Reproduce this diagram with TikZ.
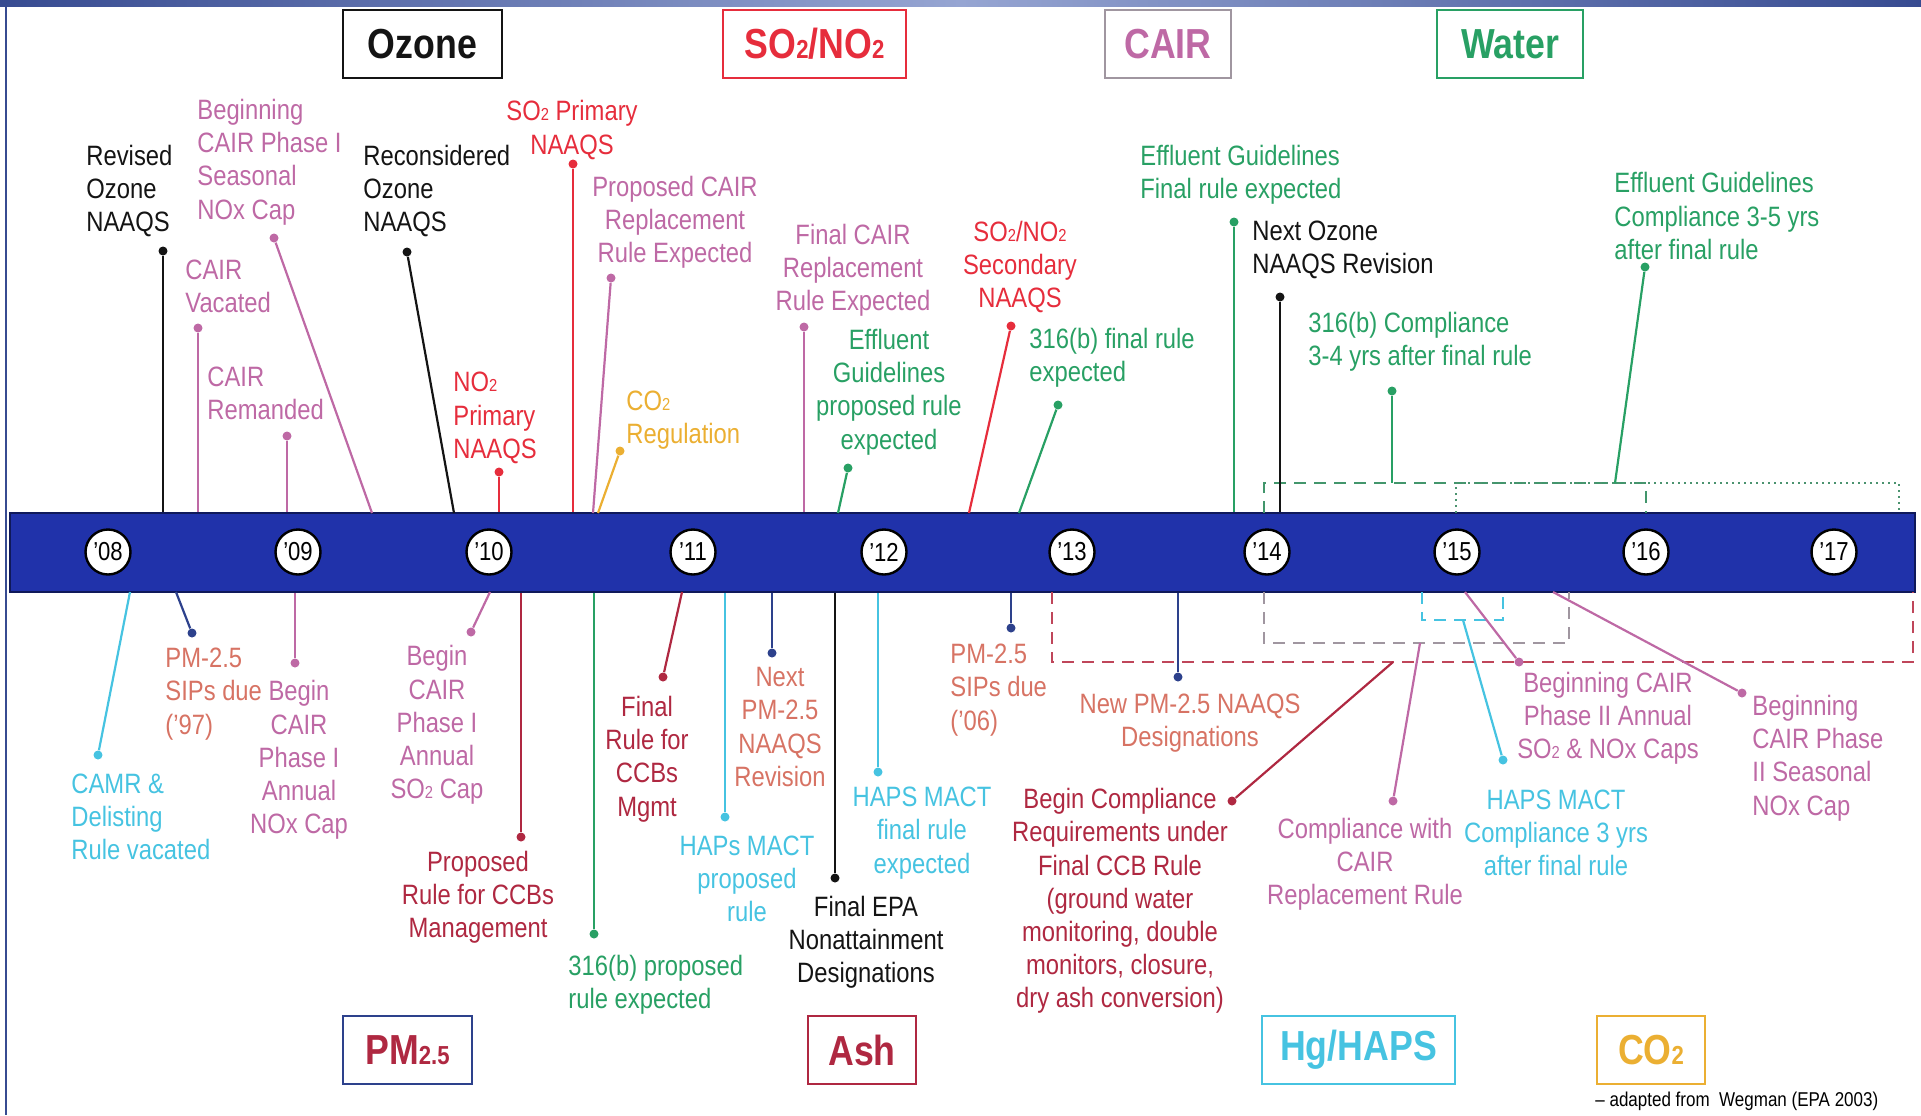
\documentclass[tikz,border=0pt]{standalone}
\usepackage{fontspec}
\setmainfont{Liberation Sans}[FakeStretch=0.85]
\definecolor{ozonec}{RGB}{20,20,20}
\definecolor{cairc}{RGB}{190,105,165}
\definecolor{soxc}{RGB}{230,45,60}
\definecolor{waterc}{RGB}{40,160,100}
\definecolor{pmtext}{RGB}{215,115,100}
\definecolor{pmnavy}{RGB}{45,65,140}
\definecolor{ashc}{RGB}{175,40,65}
\definecolor{hapsc}{RGB}{70,195,225}
\definecolor{coc}{RGB}{235,175,50}
\definecolor{barblue}{RGB}{32,50,170}
\definecolor{bardark}{RGB}{15,25,90}
\definecolor{bandblue}{RGB}{55,75,145}
\definecolor{bandlight}{RGB}{150,165,210}
\definecolor{boxgray}{RGB}{160,150,160}
\newcommand{\smallsub}[1]{\scalebox{0.62}{#1}}
\begin{document}
\begin{tikzpicture}[x=0.5pt,y=-0.5pt,
    lbl/.style={inner sep=0pt,font=\fontsize{14}{16.6}\selectfont},
    lblc/.style={lbl,align=center},
    lbll/.style={lbl,align=left,anchor=west},
    evdot/.style={circle,fill,inner sep=0pt,minimum size=4.5pt},
    stem/.style={line width=1.1pt},
    yearmark/.style={circle,draw=black,line width=1.2pt,fill=white,minimum size=22.5pt,inner sep=0pt,font=\fontsize{13}{13}\selectfont},
    catbox/.style={rectangle,draw,line width=1pt,minimum height=34pt,inner sep=0pt,font=\fontsize{21}{21}\selectfont\bfseries},
    boxdash/.style={line width=1pt,dash pattern=on 6pt off 4pt}]
    \useasboundingbox (0,0) rectangle (1921,1115);
    \shade [left color=bandblue,right color=bandblue,middle color=bandlight] (0,0) rectangle (1921,6);
    \draw [bandblue,line width=1pt] (6,0) -- (6,1115);
    \node (Bar) [rectangle,fill=barblue,draw=bardark,line width=1pt,minimum width=952.5pt,minimum height=39.5pt,inner sep=0pt] at (962.5,552.5) {};
    \node (OzoneBox) [catbox,draw=ozonec,text=ozonec,minimum width=79.5pt] at (422.5,44) {Ozone};
    \node (SoxBox) [catbox,draw=soxc,text=soxc,minimum width=91.5pt] at (814.5,44) {SO\smallsub{2}/NO\smallsub{2}};
    \node (CairBox) [catbox,draw=boxgray,text=cairc,minimum width=63pt] at (1168,44) {CAIR};
    \node (WaterBox) [catbox,draw=waterc,text=waterc,minimum width=73pt] at (1510,44) {Water};
    \node (PmBox) [catbox,draw=pmnavy,text=ashc,minimum width=64.5pt] at (407.5,1050) {PM\smallsub{2.5}};
    \node (AshBox) [catbox,draw=ashc,text=ashc,minimum width=54pt] at (862,1050) {Ash};
    \node (HapsBox) [catbox,draw=hapsc,text=hapsc,minimum width=96.5pt] at (1358.5,1050) {Hg/HAPS};
    \node (CoBox) [catbox,draw=coc,text=coc,minimum width=54pt] at (1651,1050) {CO\smallsub{2}};
    \node (Credit) [inner sep=0pt,anchor=west,font=\fontsize{10}{10}\selectfont] at (1595,1101) {-- adapted from~ Wegman (EPA 2003)};
    \coordinate (WaterNW) at (1264,483);
    \coordinate (GrayS) at (1264,643);
    \coordinate (HapsS) at (1422,620);
    \coordinate (RedS) at (1052,662);
    \draw [boxdash,waterc!70!gray] (1264,513) -- (WaterNW) -- (1646,483) -- (1646,513);
    \draw [line width=1pt,dotted,waterc!60!gray] (1456,513) -- (1456,483) -- (1899,483) -- (1899,513);
    \draw [boxdash,boxgray] (1264,592) -- (GrayS) -- (1569,643) -- (1569,592);
    \draw [boxdash,hapsc] (1422,592) -- (HapsS) -- (1503,620) -- (1503,592);
    \draw [boxdash,ashc!80!pink] (1052,592) -- (RedS) -- (1913,662) -- (1913,592);
    \node (RevisedOzone) [lbll,text=ozonec] at (86,191) {Revised\\Ozone\\NAAQS};
    \node (RevisedOzoneDot) [evdot,ozonec] at (163,251) {};
    \draw [stem,ozonec] (RevisedOzoneDot) -- (RevisedOzoneDot |- Bar.north);
    \node (PhaseOneSeasonal) [lbll,text=cairc] at (197,162) {Beginning\\CAIR Phase I\\Seasonal\\NOx Cap};
    \node (PhaseOneSeasonalDot) [evdot,cairc] at (274,238) {};
    \coordinate (PhaseOneSeasonalFoot) at (372,513);
    \draw [stem,cairc] (PhaseOneSeasonalDot) -- (PhaseOneSeasonalFoot);
    \node (CairVacated) [lbll,text=cairc] at (185,286) {CAIR\\Vacated};
    \node (CairVacatedDot) [evdot,cairc] at (198,328) {};
    \draw [stem,cairc] (CairVacatedDot) -- (CairVacatedDot |- Bar.north);
    \node (CairRemanded) [lbll,text=cairc] at (207,393) {CAIR\\Remanded};
    \node (CairRemandedDot) [evdot,cairc] at (287,436) {};
    \draw [stem,cairc] (CairRemandedDot) -- (CairRemandedDot |- Bar.north);
    \node (ReconsideredOzone) [lbll,text=ozonec] at (363,191) {Reconsidered\\Ozone\\NAAQS};
    \node (ReconsideredOzoneDot) [evdot,ozonec] at (407,252) {};
    \coordinate (ReconsideredOzoneFoot) at (454,513);
    \draw [stem,ozonec] (ReconsideredOzoneDot) -- (ReconsideredOzoneFoot);
    \node (SoPrimary) [lblc,text=soxc] at (572,130) {SO\smallsub{2} Primary\\NAAQS};
    \node (SoPrimaryDot) [evdot,soxc] at (573,164) {};
    \draw [stem,soxc] (SoPrimaryDot) -- (SoPrimaryDot |- Bar.north);
    \node (NoPrimary) [lbll,text=soxc] at (453,418) {NO\smallsub{2}\\Primary\\NAAQS};
    \node (NoPrimaryDot) [evdot,soxc] at (499,472) {};
    \draw [stem,soxc] (NoPrimaryDot) -- (NoPrimaryDot |- Bar.north);
    \node (ProposedCair) [lblc,text=cairc] at (675,222) {Proposed CAIR\\Replacement\\Rule Expected};
    \node (ProposedCairDot) [evdot,cairc] at (611,278) {};
    \coordinate (ProposedCairFoot) at (593,513);
    \draw [stem,cairc] (ProposedCairDot) -- (ProposedCairFoot);
    \node (CoRegulation) [lbll,text=coc] at (626,420) {CO\smallsub{2}\\Regulation};
    \node (CoRegulationDot) [evdot,coc] at (620,451) {};
    \coordinate (CoRegulationFoot) at (598,513);
    \draw [stem,coc] (CoRegulationDot) -- (CoRegulationFoot);
    \node (FinalCair) [lblc,text=cairc] at (853,270) {Final CAIR\\Replacement\\Rule Expected};
    \node (FinalCairDot) [evdot,cairc] at (804,327) {};
    \draw [stem,cairc] (FinalCairDot) -- (FinalCairDot |- Bar.north);
    \node (EffluentProposed) [lblc,text=waterc] at (889,392) {Effluent\\Guidelines\\proposed rule\\expected};
    \node (EffluentProposedDot) [evdot,waterc] at (848,468) {};
    \coordinate (EffluentProposedFoot) at (838,513);
    \draw [stem,waterc] (EffluentProposedDot) -- (EffluentProposedFoot);
    \node (SecondaryNaaqs) [lblc,text=soxc] at (1020,267) {SO\smallsub{2}/NO\smallsub{2}\\Secondary\\NAAQS};
    \node (SecondaryNaaqsDot) [evdot,soxc] at (1011,326) {};
    \coordinate (SecondaryNaaqsFoot) at (969,513);
    \draw [stem,soxc] (SecondaryNaaqsDot) -- (SecondaryNaaqsFoot);
    \node (FinalRuleWater) [lbll,text=waterc] at (1029,358) {316(b) final rule\\expected};
    \node (FinalRuleWaterDot) [evdot,waterc] at (1058,405) {};
    \coordinate (FinalRuleWaterFoot) at (1019,513);
    \draw [stem,waterc] (FinalRuleWaterDot) -- (FinalRuleWaterFoot);
    \node (EffluentFinal) [lbll,text=waterc] at (1140,175) {Effluent Guidelines\\Final rule expected};
    \node (EffluentFinalDot) [evdot,waterc] at (1234,222) {};
    \draw [stem,waterc] (EffluentFinalDot) -- (EffluentFinalDot |- Bar.north);
    \node (NextOzone) [lbll,text=ozonec] at (1252,250) {Next Ozone\\NAAQS Revision};
    \node (NextOzoneDot) [evdot,ozonec] at (1280,297) {};
    \draw [stem,ozonec] (NextOzoneDot) -- (NextOzoneDot |- Bar.north);
    \node (ComplianceWater) [lbll,text=waterc] at (1308,342) {316(b) Compliance\\3-4 yrs after final rule};
    \node (ComplianceWaterDot) [evdot,waterc] at (1392,391) {};
    \draw [stem,waterc] (ComplianceWaterDot) -- (ComplianceWaterDot |- WaterNW);
    \node (EffluentCompliance) [lbll,text=waterc] at (1614,216) {Effluent Guidelines\\Compliance 3-5 yrs\\after final rule};
    \node (EffluentComplianceDot) [evdot,waterc] at (1645,267) {};
    \coordinate (EffluentComplianceFoot) at (1615,483);
    \draw [stem,waterc] (EffluentComplianceDot) -- (EffluentComplianceFoot);
    \node (CamrDelisting) [lbll,text=hapsc] at (71,817) {CAMR \&\\Delisting\\Rule vacated};
    \node (CamrDelistingDot) [evdot,hapsc] at (98,755) {};
    \coordinate (CamrDelistingFoot) at (130,592);
    \draw [stem,hapsc] (CamrDelistingDot) -- (CamrDelistingFoot);
    \node (SipsOld) [lbll,text=pmtext] at (165,694) {PM-2.5\\SIPs due\\('97)};
    \node (SipsOldDot) [evdot,pmnavy] at (192,633) {};
    \coordinate (SipsOldFoot) at (176,592);
    \draw [stem,pmnavy] (SipsOldDot) -- (SipsOldFoot);
    \node (BeginNoxCap) [lblc,text=cairc] at (299,760) {Begin\\CAIR\\Phase I\\Annual\\NOx Cap};
    \node (BeginNoxCapDot) [evdot,cairc] at (295,663) {};
    \draw [stem,cairc] (BeginNoxCapDot) -- (BeginNoxCapDot |- Bar.south);
    \node (BeginSoCap) [lblc,text=cairc] at (437,725) {Begin\\CAIR\\Phase I\\Annual\\SO\smallsub{2} Cap};
    \node (BeginSoCapDot) [evdot,cairc] at (471,632) {};
    \coordinate (BeginSoCapFoot) at (490,592);
    \draw [stem,cairc] (BeginSoCapDot) -- (BeginSoCapFoot);
    \node (ProposedCcb) [lblc,text=ashc] at (478,897) {Proposed\\Rule for CCBs\\Management};
    \node (ProposedCcbDot) [evdot,ashc] at (521,837) {};
    \draw [stem,ashc] (ProposedCcbDot) -- (ProposedCcbDot |- Bar.south);
    \node (ProposedWater) [lbll,text=waterc] at (568,985) {316(b) proposed\\rule expected};
    \node (ProposedWaterDot) [evdot,waterc] at (594,934) {};
    \draw [stem,waterc] (ProposedWaterDot) -- (ProposedWaterDot |- Bar.south);
    \node (FinalCcb) [lblc,text=ashc] at (647,759) {Final\\Rule for\\CCBs\\Mgmt};
    \node (FinalCcbDot) [evdot,ashc] at (663,677) {};
    \coordinate (FinalCcbFoot) at (682,592);
    \draw [stem,ashc] (FinalCcbDot) -- (FinalCcbFoot);
    \node (HapsProposed) [lblc,text=hapsc] at (747,879) {HAPs MACT\\proposed\\rule};
    \node (HapsProposedDot) [evdot,hapsc] at (725,817) {};
    \draw [stem,hapsc] (HapsProposedDot) -- (HapsProposedDot |- Bar.south);
    \node (NextPm) [lblc,text=pmtext] at (780,727) {Next\\PM-2.5\\NAAQS\\Revision};
    \node (NextPmDot) [evdot,pmnavy] at (772,653) {};
    \draw [stem,pmnavy] (NextPmDot) -- (NextPmDot |- Bar.south);
    \node (FinalEpa) [lblc,text=ozonec] at (866,942) {Final EPA\\Nonattainment\\Designations};
    \node (FinalEpaDot) [evdot,ozonec] at (835,878) {};
    \draw [stem,ozonec] (FinalEpaDot) -- (FinalEpaDot |- Bar.south);
    \node (HapsFinal) [lblc,text=hapsc] at (922,833) {HAPS MACT\\final rule\\expected};
    \node (HapsFinalDot) [evdot,hapsc] at (878,772) {};
    \draw [stem,hapsc] (HapsFinalDot) -- (HapsFinalDot |- Bar.south);
    \node (SipsNew) [lbll,text=pmtext] at (950,690) {PM-2.5\\SIPs due\\('06)};
    \node (SipsNewDot) [evdot,pmnavy] at (1011,628) {};
    \draw [stem,pmnavy] (SipsNewDot) -- (SipsNewDot |- Bar.south);
    \node (NewPm) [lblc,text=pmtext] at (1190,723) {New PM-2.5 NAAQS\\Designations};
    \node (NewPmDot) [evdot,pmnavy] at (1178,677) {};
    \draw [stem,pmnavy] (NewPmDot) -- (NewPmDot |- Bar.south);
    \node (BeginCompliance) [lblc,text=ashc] at (1120,901) {Begin Compliance\\Requirements under\\Final CCB Rule\\(ground water\\monitoring, double\\monitors, closure,\\dry ash conversion)};
    \node (BeginComplianceDot) [evdot,ashc] at (1232,801) {};
    \coordinate (BeginComplianceFoot) at (1393,662);
    \draw [stem,ashc] (BeginComplianceDot) -- (BeginComplianceFoot);
    \node (ComplianceCair) [lblc,text=cairc] at (1365,864) {Compliance with\\CAIR\\Replacement Rule};
    \node (ComplianceCairDot) [evdot,cairc] at (1393,801) {};
    \coordinate (ComplianceCairFoot) at (1420,643);
    \draw [stem,cairc] (ComplianceCairDot) -- (ComplianceCairFoot);
    \node (HapsCompliance) [lblc,text=hapsc] at (1556,833) {HAPS MACT\\Compliance 3 yrs\\after final rule};
    \node (HapsComplianceDot) [evdot,hapsc] at (1503,760) {};
    \coordinate (HapsComplianceFoot) at (1463,620);
    \draw [stem,hapsc] (HapsComplianceDot) -- (HapsComplianceFoot);
    \node (PhaseTwoAnnual) [lblc,text=cairc] at (1608,718) {Beginning CAIR\\Phase II Annual\\SO\smallsub{2} \& NOx Caps};
    \node (PhaseTwoAnnualDot) [evdot,cairc] at (1519,662) {};
    \coordinate (PhaseTwoAnnualFoot) at (1465,592);
    \draw [stem,cairc] (PhaseTwoAnnualDot) -- (PhaseTwoAnnualFoot);
    \node (PhaseTwoSeasonal) [lbll,text=cairc] at (1752,758) {Beginning\\CAIR Phase\\II Seasonal\\NOx Cap};
    \node (PhaseTwoSeasonalDot) [evdot,cairc] at (1742,693) {};
    \coordinate (PhaseTwoSeasonalFoot) at (1553,592);
    \draw [stem,cairc] (PhaseTwoSeasonalDot) -- (PhaseTwoSeasonalFoot);
    \node (YearEight) [yearmark] at (108,552) {'08};
    \node (YearNine) [yearmark] at (298,552) {'09};
    \node (YearTen) [yearmark] at (489,552) {'10};
    \node (YearEleven) [yearmark] at (693,552) {'11};
    \node (YearTwelve) [yearmark] at (884,552) {'12};
    \node (YearThirteen) [yearmark] at (1072,552) {'13};
    \node (YearFourteen) [yearmark] at (1267,552) {'14};
    \node (YearFifteen) [yearmark] at (1457,552) {'15};
    \node (YearSixteen) [yearmark] at (1646,552) {'16};
    \node (YearSeventeen) [yearmark] at (1834,552) {'17};
\end{tikzpicture}
\end{document}
